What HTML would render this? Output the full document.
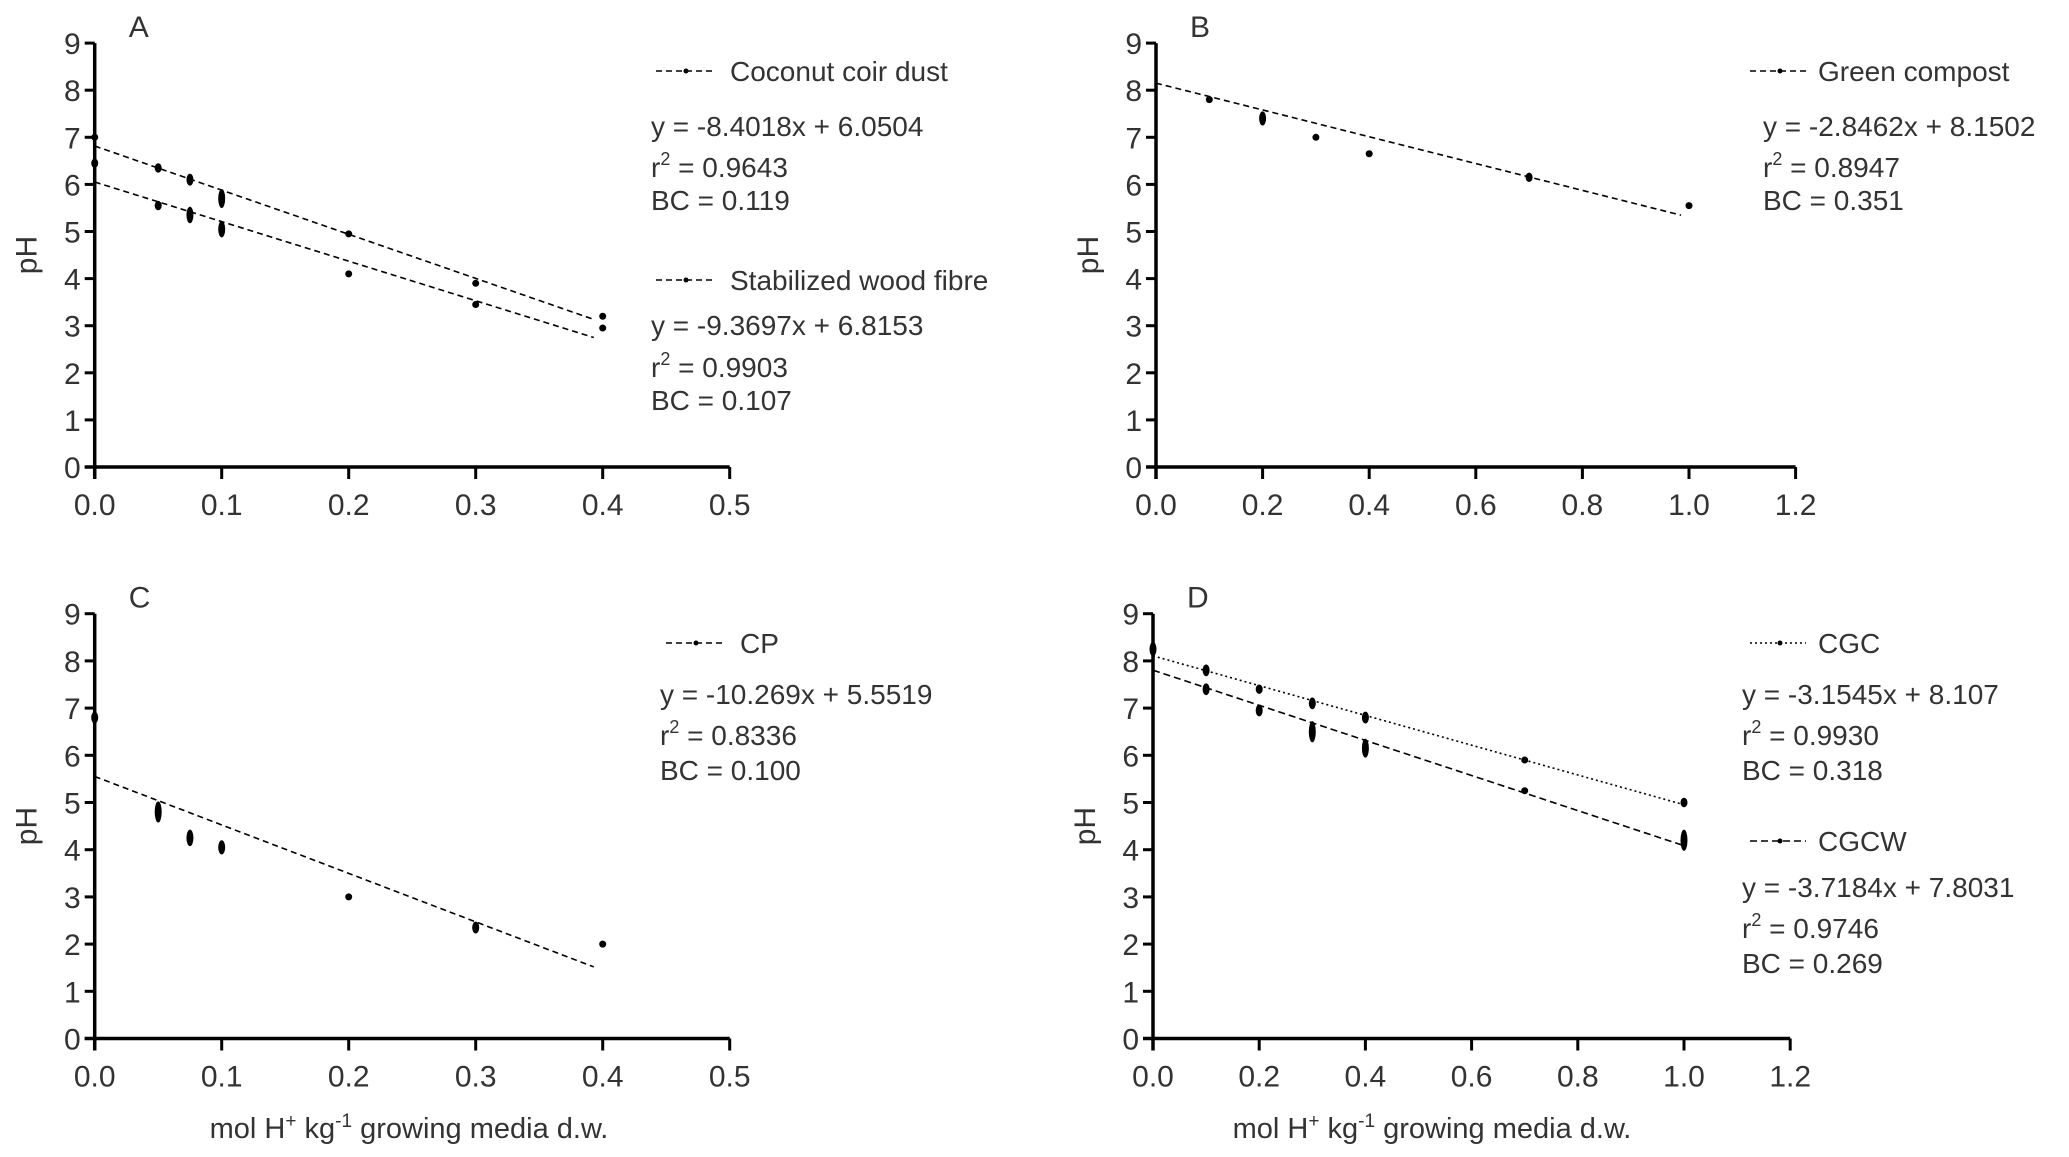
<!DOCTYPE html>
<html><head><meta charset="utf-8"><style>
html,body{margin:0;padding:0;background:#fff;}
svg{display:block;}
text{font-family:"Liberation Sans",sans-serif;fill:#333;}
</style></head><body>
<svg id="s" width="2069" height="1157" xmlns="http://www.w3.org/2000/svg"></svg>
<script>
const S=document.getElementById('s');let h='';
function T(x,y,t,sz,anc,extra){h+=`<text x="${x}" y="${y}" font-size="${sz||26}" text-anchor="${anc||'start'}" ${extra||''}>${t}</text>`;}
function panel(o){
 const px=x=>o.x0+x*o.sx, py=y=>o.y0-y*o.sy;
 h+=`<line x1="${o.x0}" y1="${py(9)}" x2="${o.x0}" y2="${o.y0+12}" stroke="#000" stroke-width="3.5"/>`;
 h+=`<line x1="${o.x0-10}" y1="${o.y0}" x2="${px(o.xmax)}" y2="${o.y0}" stroke="#000" stroke-width="3.5"/>`;
 for(let i=0;i<=9;i++){h+=`<line x1="${o.x0-10}" y1="${py(i)}" x2="${o.x0}" y2="${py(i)}" stroke="#000" stroke-width="3"/>`;T(o.x0-14,py(i)+11,i,30,'end');}
 o.xt.forEach(v=>{h+=`<line x1="${px(v)}" y1="${o.y0}" x2="${px(v)}" y2="${o.y0+12}" stroke="#000" stroke-width="3"/>`;T(px(v),o.y0+48,v.toFixed(1),30,'middle');});
 const cx=o.x0-66, cy=(py(9)+o.y0)/2;
 T(cx,cy,'pH',30,'middle',`transform="rotate(-90 ${cx} ${cy})" dy="8"`);
 T(o.x0+34,py(9)-6,o.lab,30);
 o.lines.forEach(l=>{h+=`<line x1="${px(0)}" y1="${py(l[1])}" x2="${px(l[2])}" y2="${py(l[1]+l[0]*l[2])}" stroke="#000" stroke-width="1.6" stroke-dasharray="${l[3]}"/>`;});
 o.pts.forEach(p=>{const r=p[2]||0.1;h+=`<ellipse cx="${px(p[0])}" cy="${py(p[1])}" rx="3.5" ry="${Math.max(3.5,r*o.sy/2)}" fill="#000"/>`;});
}
panel({x0:94.7,y0:467,sx:1270,sy:47.1,xmax:0.5,xt:[0,0.1,0.2,0.3,0.4,0.5],lab:'A',
 lines:[[-9.3697,6.8153,0.393,'6,4'],[-8.4018,6.0504,0.393,'6,4']],
 pts:[[0,7.0,0.15],[0,6.45,0.2],[0.05,6.35,0.2],[0.075,6.1,0.25],[0.1,5.7,0.4],[0.2,4.95,0.15],[0.3,3.9,0.05],[0.4,3.2,0.05],[0.4,2.95,0.05],[0.05,5.55,0.2],[0.075,5.35,0.35],[0.1,5.05,0.35],[0.2,4.1,0.15],[0.3,3.45,0.15]]});
panel({x0:1156,y0:467,sx:533,sy:47.1,xmax:1.2,xt:[0,0.2,0.4,0.6,0.8,1.0,1.2],lab:'B',
 lines:[[-2.8462,8.1502,0.985,'6,4']],
 pts:[[0.1,7.8,0.05],[0.2,7.4,0.3],[0.3,7.0,0.05],[0.4,6.65,0.05],[0.7,6.15,0.2],[1.0,5.55,0.05]]});
panel({x0:94.7,y0:1038.5,sx:1270,sy:47.2,xmax:0.5,xt:[0,0.1,0.2,0.3,0.4,0.5],lab:'C',
 lines:[[-10.269,5.5519,0.393,'6,4']],
 pts:[[0,6.8,0.25],[0.05,4.8,0.45],[0.075,4.25,0.35],[0.1,4.05,0.3],[0.2,3.0,0.05],[0.3,2.35,0.25],[0.4,2.0,0.05]]});
panel({x0:1153,y0:1038.5,sx:531,sy:47.2,xmax:1.2,xt:[0,0.2,0.4,0.6,0.8,1.0,1.2],lab:'D',
 lines:[[-3.1545,8.107,1.0,'2,3'],[-3.7184,7.8031,1.0,'7,4']],
 pts:[[0,8.25,0.3],[0.1,7.8,0.25],[0.1,7.4,0.25],[0.2,7.4,0.2],[0.2,6.95,0.25],[0.3,7.1,0.25],[0.3,6.5,0.45],[0.4,6.8,0.25],[0.4,6.15,0.4],[0.7,5.9,0.05],[0.7,5.25,0.1],[1.0,5.0,0.2],[1.0,4.2,0.45]]});
function leg(x1,y,tx,t,da){h+=`<line x1="${x1}" y1="${y}" x2="${x1+56}" y2="${y}" stroke="#000" stroke-width="1.6" stroke-dasharray="${da}"/><circle cx="${x1+30}" cy="${y}" r="2.5" fill="#000"/>`;T(tx,y+10,t,28);}
function eq(x,ys,e,r,bc){T(x,ys[0],e,28);T(x,ys[1],'r<tspan dy="-12" font-size="18">2</tspan><tspan dy="12"> = '+r+'</tspan>',28);T(x,ys[2],'BC = '+bc,28);}
leg(656,71,730,'Coconut coir dust','6,4');eq(651,[136,177,210],'y = -8.4018x + 6.0504','0.9643','0.119');
leg(656,280,730,'Stabilized wood fibre','6,4');eq(651,[335,377,410],'y = -9.3697x + 6.8153','0.9903','0.107');
leg(1750,71,1818,'Green compost','6,4');eq(1763,[136,177,210],'y = -2.8462x + 8.1502','0.8947','0.351');
leg(666,643,740,'CP','6,4');eq(660,[704,745,780],'y = -10.269x + 5.5519','0.8336','0.100');
leg(1750,643,1818,'CGC','2,3');eq(1742,[704,745,780],'y = -3.1545x + 8.107','0.9930','0.318');
leg(1750,841,1818,'CGCW','7,4');eq(1742,[897,938,973],'y = -3.7184x + 7.8031','0.9746','0.269');
const xl='mol H<tspan dy="-11" font-size="19">+</tspan><tspan dy="11"> kg</tspan><tspan dy="-11" font-size="19">-1</tspan><tspan dy="11"> growing media d.w.</tspan>';
T(409,1138,xl,29,'middle');T(1432,1138,xl,29,'middle');
S.innerHTML=h;
</script>
</body></html>
